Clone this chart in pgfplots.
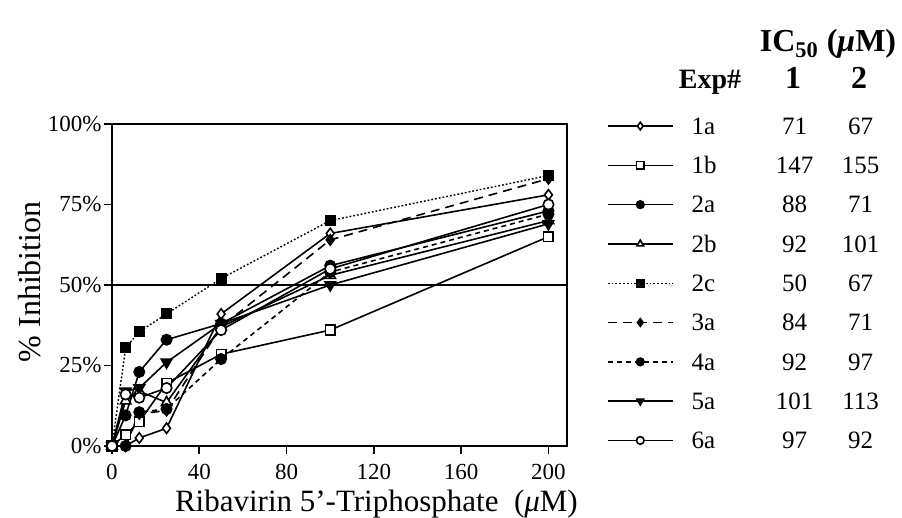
\documentclass[border=0pt]{standalone}
\usepackage{pgfplots}
\pgfplotsset{compat=1.18}
\usepackage{fontspec}
\setmainfont{Liberation Serif}
\pgfplotstableread{
x     a1a  a1b  a2a  a2b  a2c  a3a  a4a  a5a  a6a
0     0    0    0    0    0    0    0    0    0
6.25  0    3.5  9.5  14   30.5 0    0    17   16
12.5  2.5  7.5  23   17   35.5 10   10.5 18   15
25    5.5  19.5 33   13.5 41   11   11.5 26   18
50    41   28.5 38   37   52   37   27   38   36
100   66   36   56   53   70   64   54   50   55
200   78   65   73   70   84   83   72   69   75
}\data
\begin{document}
\begin{tikzpicture}
\useasboundingbox (0pt,0pt) rectangle (451pt,259pt);
\begin{axis}[
  at={(56pt,36pt)}, anchor=south west,
  scale only axis, width=227.5pt, height=161pt,
  xmin=0, xmax=208.5, ymin=0, ymax=100,
  xtick={0,40,80,120,160,200},
  ytick={0,25,50,75,100},
  yticklabels={0\%,25\%,50\%,75\%,100\%},
  /pgf/number format/assume math mode=true,
  tick pos=left,
  tick align=outside,
  major tick length=4pt,
  tick style={black, line width=0.8pt},
  ticklabel style={font=\fontsize{11.5}{13}\selectfont},
  yticklabel style={inner xsep=1pt},
  xticklabel style={yshift=-1.5pt},
  axis line style={line width=0.9pt},
  extra y ticks={50},
  extra y tick labels={},
  extra y tick style={grid=major},
  major grid style={black, line width=0.7pt},
  xlabel={Ribavirin 5’-Triphosphate\ \ (\textit{μ}M)},
  xlabel style={font=\fontsize{15.5}{18}\selectfont, at={(axis description cs:0.123,-0.202)}, anchor=base west},
  ylabel={\% Inhibition},
  ylabel style={font=\fontsize{16}{18}\selectfont, at={(axis description cs:-0.18,0.51)}, anchor=center},
  legend cell align=left,
  legend style={at={(1,1)}, anchor=north west, xshift=20pt, yshift=8.8pt, draw=none, fill=none, inner sep=0pt, outer sep=0pt, row sep=0pt, column sep=9pt, font=\fontsize{12.5}{14}\selectfont, nodes={inner sep=0pt, text height=14pt, text depth=5.65pt}},
  legend image code/.code={\draw[mark repeat=2, mark phase=2, #1, mark size=1.9pt] plot coordinates {(0pt,0pt) (16.25pt,0pt) (32.5pt,0pt)};},
  every axis plot/.append style={line width=0.8pt, mark size=2.6pt},
]
\addplot[black, solid, mark=diamond*, mark options={solid, fill=white}] table[x=x, y=a1a] {\data};
\addlegendentry{\makebox[36.5pt][l]{1a}\makebox[30pt]{71}\makebox[36pt]{67}}
\addplot[black, solid, mark=square*, mark options={solid, fill=white}, mark size=2.4pt] table[x=x, y=a1b] {\data};
\addlegendentry{\makebox[36.5pt][l]{1b}\makebox[30pt]{147}\makebox[36pt]{155}}
\addplot[black, solid, mark=*, mark options={solid, fill=black}] table[x=x, y=a2a] {\data};
\addlegendentry{\makebox[36.5pt][l]{2a}\makebox[30pt]{88}\makebox[36pt]{71}}
\addplot[black, solid, mark=triangle*, mark options={solid, fill=white}, mark size=3pt] table[x=x, y=a2b] {\data};
\addlegendentry{\makebox[36.5pt][l]{2b}\makebox[30pt]{92}\makebox[36pt]{101}}
\addplot[black, line width=0.7pt, dash pattern=on 0.9pt off 1pt, mark=square*, mark options={solid, fill=black}, mark size=2.4pt] table[x=x, y=a2c] {\data};
\addlegendentry{\makebox[36.5pt][l]{2c}\makebox[30pt]{50}\makebox[36pt]{67}}
\addplot[black, dash pattern=on 4.5pt off 3pt, mark=diamond*, mark options={solid, fill=black}] table[x=x, y=a3a] {\data};
\addlegendentry{\makebox[36.5pt][l]{3a}\makebox[30pt]{84}\makebox[36pt]{71}}
\addplot[black, dash pattern=on 2.5pt off 2pt, mark=*, mark options={solid, fill=black}] table[x=x, y=a4a] {\data};
\addlegendentry{\makebox[36.5pt][l]{4a}\makebox[30pt]{92}\makebox[36pt]{97}}
\addplot[black, solid, mark=triangle*, mark options={solid, fill=black, rotate=180}, mark size=3pt] table[x=x, y=a5a] {\data};
\addlegendentry{\makebox[36.5pt][l]{5a}\makebox[30pt]{101}\makebox[36pt]{113}}
\addplot[black, solid, mark=*, mark options={solid, fill=white}] table[x=x, y=a6a] {\data};
\addlegendentry{\makebox[36.5pt][l]{6a}\makebox[30pt]{97}\makebox[36pt]{92}}
\end{axis}
\node[font=\bfseries\fontsize{16}{18}\selectfont, anchor=base] at (414pt,233pt) {IC\textsubscript{50} (\textit{μ}M)};
\node[font=\bfseries\fontsize{14}{16}\selectfont, anchor=base] at (355pt,214.5pt) {Exp\#};
\node[font=\bfseries\fontsize{16}{18}\selectfont, anchor=base] at (396.5pt,214.5pt) {1};
\node[font=\bfseries\fontsize{16}{18}\selectfont, anchor=base] at (429.5pt,214.5pt) {2};
\end{tikzpicture}
\end{document}
